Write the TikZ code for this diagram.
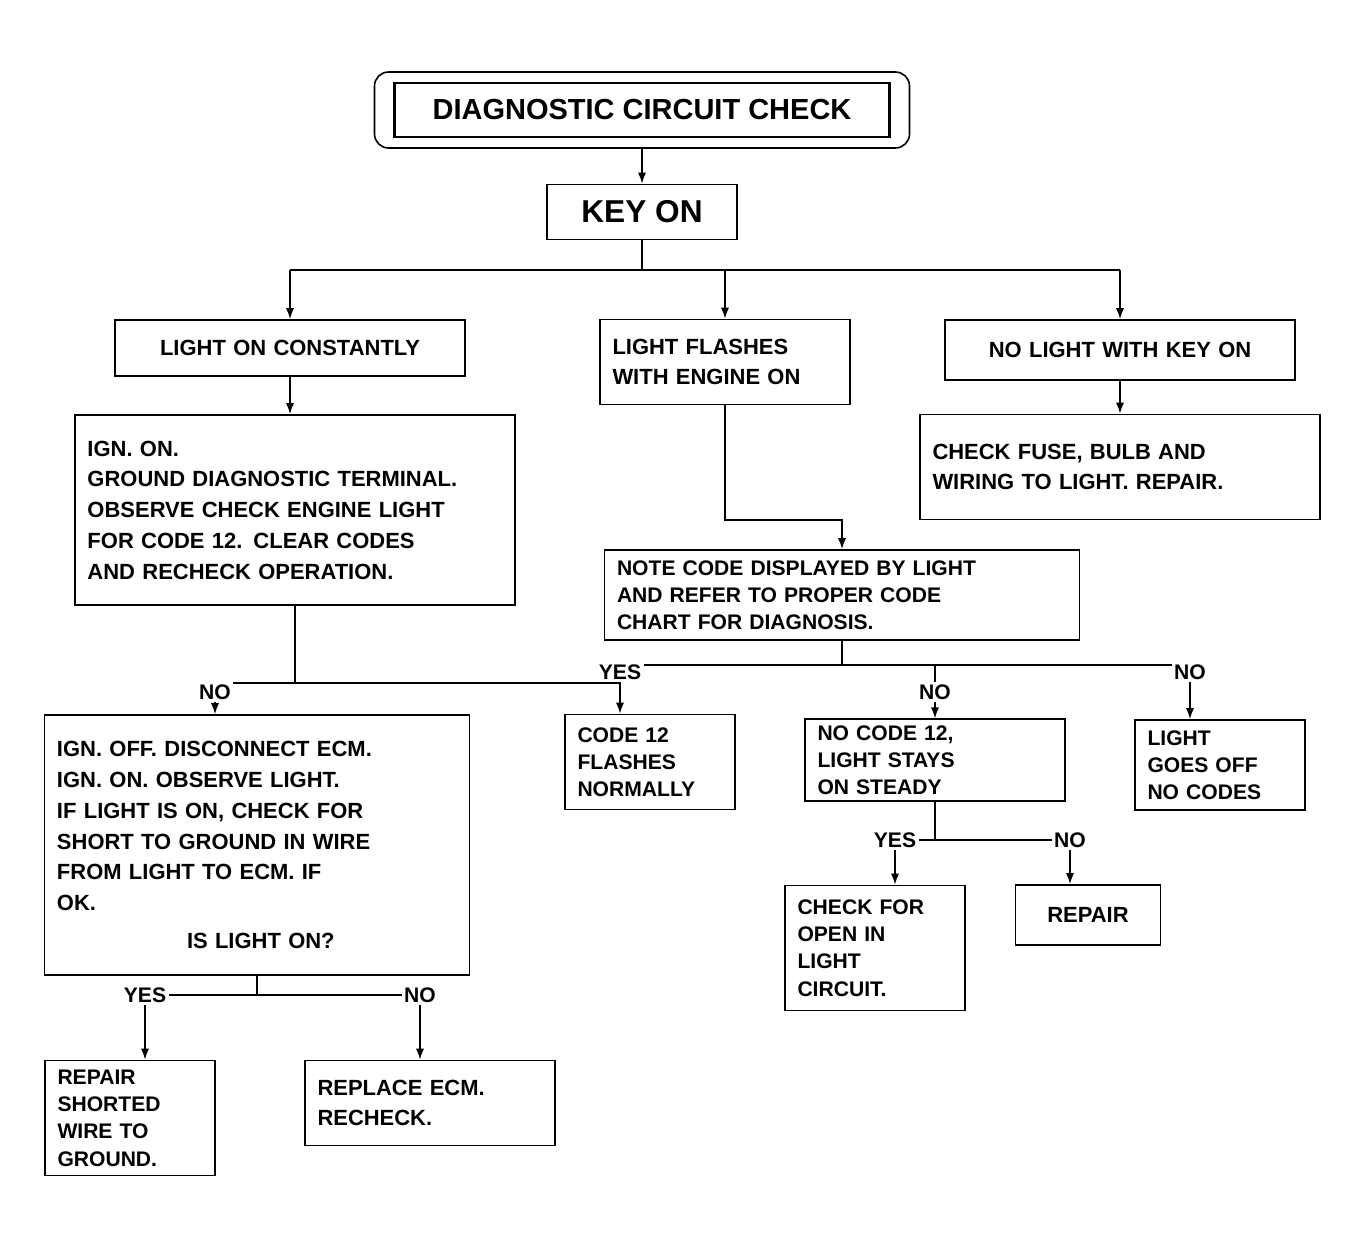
\documentclass[tikz,border=0pt]{standalone}
\usepackage{fontspec}
\setmainfont{Liberation Sans}
\usepackage{tikz}
\usetikzlibrary{positioning}
\usetikzlibrary{arrows.meta}

\begin{document}
\begin{tikzpicture}[x=0.2mm, y=-0.2mm, >={Latex[length=2.2mm]},
  caja/.style 2 args={draw, line width=1.1pt, inner xsep=0.25cm, inner ysep=0.12cm,
    text width=#1cm, minimum height=#2cm, align=left,
    font=\bfseries\fontsize{12.5}{17.5}\selectfont},
  chica/.style={font=\bfseries\fontsize{12}{15.5}\selectfont},
  etiqueta/.style={fill=white, inner sep=1.5pt, font=\bfseries\fontsize{12}{14}\selectfont}]
  \useasboundingbox (0,0) rectangle (1353,1250);

  % Cajas
  \node[draw, line width=0.9pt, rounded corners=8pt, minimum width=10.7cm, minimum height=1.52cm] (marco) at (642,110) {};
  \node[draw, line width=1.2pt, minimum width=9.9cm, minimum height=1.08cm, font=\bfseries\fontsize{16.5}{19}\selectfont] (titulo) at (642,110) {DIAGNOSTIC CIRCUIT CHECK};
  \node[draw, line width=1.1pt, minimum width=3.8cm, minimum height=1.1cm, font=\bfseries\fontsize{18}{20}\selectfont] (keyon) at (642,212) {KEY ON};

  \node[caja={6.5}{1.12}, align=center] (steady) at (290,348) {LIGHT ON CONSTANTLY};
  \node[caja={4.5}{1.7}] (flash) at (725,362) {LIGHT FLASHES\\WITH ENGINE ON};
  \node[caja={6.5}{1.2}, align=center] (nolight) at (1120,350) {NO LIGHT WITH KEY ON};

  \node[caja={8.3}{3.8}] (grdtest) at (295,510) {IGN. ON.\\GROUND DIAGNOSTIC TERMINAL.\\OBSERVE CHECK ENGINE LIGHT\\FOR CODE 12. CLEAR CODES\\AND RECHECK OPERATION.};
  \node[caja={7.5}{2.1}] (bulb) at (1120,467) {CHECK FUSE, BULB AND\\WIRING TO LIGHT. REPAIR.};
  \node[caja={9.0}{1.8}, chica] (code) at (842,595) {NOTE CODE DISPLAYED BY LIGHT\\AND REFER TO PROPER CODE\\CHART FOR DIAGNOSIS.};

  \node[caja={2.9}{1.9}, chica] (ok12) at (650,762) {CODE 12\\FLASHES\\NORMALLY};
  \node[caja={4.7}{1.6}, chica] (stays) at (935,760) {NO CODE 12,\\LIGHT STAYS\\ON STEADY};
  \node[caja={2.9}{1.8}, chica] (off) at (1220,765) {LIGHT\\GOES OFF\\NO CODES};

  \node[caja={8.0}{5.2}] (wiring) at (257,845) {IGN. OFF. DISCONNECT ECM.\\IGN. ON. OBSERVE LIGHT.\\IF LIGHT IS ON, CHECK FOR\\SHORT TO GROUND IN WIRE\\FROM LIGHT TO ECM. IF\\OK.\\[4pt]\hspace*{2.6cm}IS LIGHT ON?};

  \node[caja={2.9}{2.3}, chica] (ecm) at (130,1118) {REPAIR\\SHORTED\\WIRE TO\\GROUND.};
  \node[caja={4.5}{1.7}] (open) at (430,1103) {REPLACE ECM.\\RECHECK.};
  \node[caja={3.1}{2.5}, chica] (prom) at (875,948) {CHECK FOR\\OPEN IN\\LIGHT\\CIRCUIT.};
  \node[caja={2.4}{1.2}, align=center] (repair) at (1088,915) {REPAIR};

  % Puntos de union
  \coordinate (b1l) at (290,270);
  \coordinate (b1r) at (1120,270);
  \coordinate (f1) at (725,520);
  \coordinate (j2l) at (215,683);
  \coordinate (j2r) at (620,683);
  \coordinate (c1l) at (620,665);
  \coordinate (c1r) at (1190,665);
  \coordinate (w1l) at (145,995);
  \coordinate (w1r) at (420,995);
  \coordinate (s1l) at (895,840);
  \coordinate (s1r) at (1070,840);

  % Conexiones
  \draw[->, thick] (marco.south) -- (keyon.north);
  \draw[thick] (keyon.south) -- (keyon.south |- b1l);
  \draw[thick] (b1l) -- (b1r);
  \draw[->, thick] (b1l) -- (steady.north);
  \draw[->, thick] (flash.north |- b1l) -- (flash.north);
  \draw[->, thick] (b1r) -- (nolight.north);

  \draw[->, thick] (steady.south) -- (steady.south |- grdtest.north);
  \draw[->, thick] (nolight.south) -- (bulb.north);
  \draw[->, thick] (flash.south) -- (f1) -| (code.north);

  \draw[thick] (grdtest.south) -- (grdtest.south |- j2l);
  \draw[thick] (j2l) -- (j2r);
  \draw[->, thick] (j2l) -- (wiring.north -| j2l);

  \draw[thick] (code.south) -- (code.south |- c1l);
  \draw[thick] (c1l) -- (c1r);
  \draw[->, thick] (c1l) -- (ok12.north -| c1l);
  \draw[->, thick] (stays.north |- c1l) -- (stays.north);
  \draw[->, thick] (c1r) -- (off.north -| c1r);

  \draw[thick] (wiring.south) -- (wiring.south |- w1l);
  \draw[thick] (w1l) -- (w1r);
  \draw[->, thick] (w1l) -- (ecm.north -| w1l);
  \draw[->, thick] (w1r) -- (open.north -| w1r);

  \draw[thick] (stays.south) -- (stays.south |- s1l);
  \draw[thick] (s1l) -- (s1r);
  \draw[->, thick] (s1l) -- (prom.north -| s1l);
  \draw[->, thick] (s1r) -- (repair.north -| s1r);

  % Etiquetas
  \node[etiqueta] (e1) at (215,692) {NO};
  \node[etiqueta] (e2) at (620,672) {YES};
  \node[etiqueta] (e3) at (935,692) {NO};
  \node[etiqueta] (e4) at (1190,672) {NO};
  \node[etiqueta] (e5) at (145,995) {YES};
  \node[etiqueta] (e6) at (420,995) {NO};
  \node[etiqueta] (e7) at (895,840) {YES};
  \node[etiqueta] (e8) at (1070,840) {NO};
\end{tikzpicture}
\end{document}
